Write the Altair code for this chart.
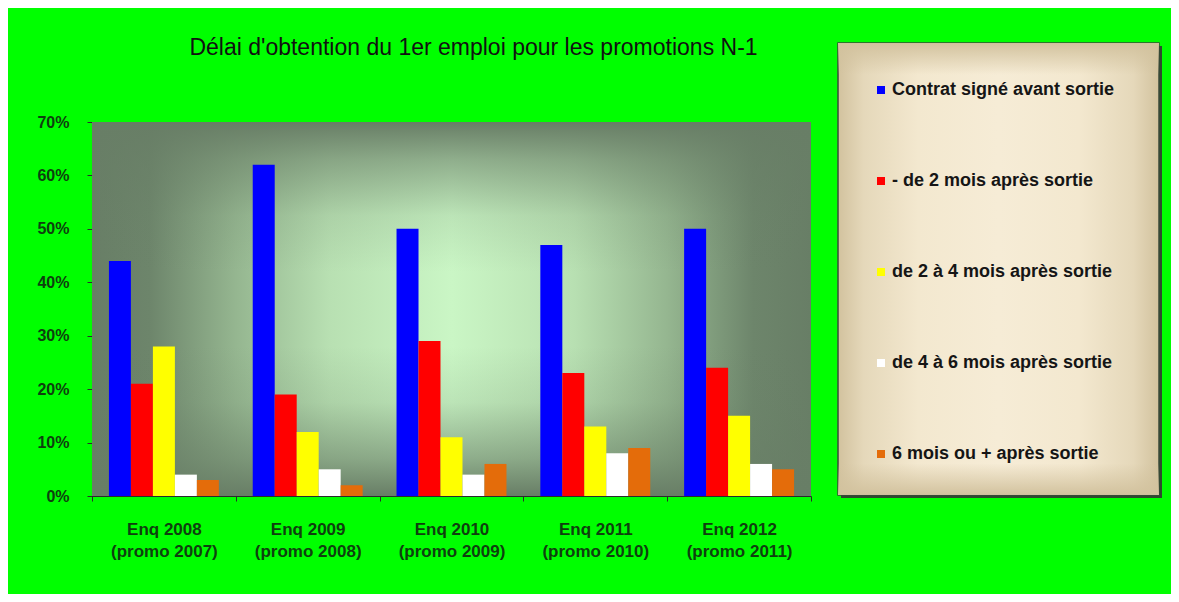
import altair as alt
import pandas as pd

# ---------------- data ----------------
categories = ["Enq 2008|(promo 2007)", "Enq 2009|(promo 2008)", "Enq 2010|(promo 2009)",
              "Enq 2011|(promo 2010)", "Enq 2012|(promo 2011)"]
series = ["Contrat signé avant sortie", "- de 2 mois après sortie", "de 2 à 4 mois après sortie",
          "de 4 à 6 mois après sortie", "6 mois ou + après sortie"]
contrat = [44, 62, 50, 47, 50]
moins_2 = [21, 19, 29, 23, 24]
de_2_a_4 = [28, 12, 11, 13, 15]
de_4_a_6 = [4, 5, 4, 8, 6]
plus_6 = [3, 2, 6, 9, 5]
colors = ["#0000FF", "#FF0000", "#FFFF00", "#FFFFFF", "#E46C0A"]
title_text = "Délai d'obtention du 1er emploi pour les promotions N-1"

values_by_series = [contrat, moins_2, de_2_a_4, de_4_a_6, plus_6]
rows = []
for s, vals in zip(series, values_by_series):
    for c, v in zip(categories, vals):
        rows.append({"cat": c, "serie": s, "val": v / 100})
df = pd.DataFrame(rows)

W, H = 719, 374
FONT = "Liberation Sans"
LABEL_GREEN = "#0f3f0f"

one = alt.Data(values=[{"k": 1}])

# plot-area background: horizontal + vertical gradients
plot_bg = alt.Chart(one).mark_rect(
    fill=alt.LinearGradient(
        gradient="linear", x1=0, y1=0, x2=1, y2=0,
        stops=[alt.GradientStop(color="#687e66", offset=0),
               alt.GradientStop(color="#6d856b", offset=0.08),
               alt.GradientStop(color="#95b690", offset=0.2),
               alt.GradientStop(color="#b8e0b2", offset=0.33),
               alt.GradientStop(color="#caf6c5", offset=0.5),
               alt.GradientStop(color="#b8e0b2", offset=0.67),
               alt.GradientStop(color="#95b690", offset=0.8),
               alt.GradientStop(color="#6d856b", offset=0.92),
               alt.GradientStop(color="#687e66", offset=1)]),
).encode(x=alt.value(0), x2=alt.value(W), y=alt.value(0), y2=alt.value(H))

plot_overlay = alt.Chart(one).mark_rect(
    fill=alt.LinearGradient(
        gradient="linear", x1=0, y1=0, x2=0, y2=1,
        stops=[alt.GradientStop(color="rgba(104,126,102,1)", offset=0),
               alt.GradientStop(color="rgba(104,126,102,0.6)", offset=0.1),
               alt.GradientStop(color="rgba(104,126,102,0.15)", offset=0.25),
               alt.GradientStop(color="rgba(104,126,102,0)", offset=0.4),
               alt.GradientStop(color="rgba(104,126,102,0)", offset=0.6),
               alt.GradientStop(color="rgba(104,126,102,0.15)", offset=0.75),
               alt.GradientStop(color="rgba(104,126,102,0.6)", offset=0.9),
               alt.GradientStop(color="rgba(104,126,102,1)", offset=1)]),
).encode(x=alt.value(0), x2=alt.value(W), y=alt.value(0), y2=alt.value(H))

# legend box background
LX, LY, LW, LH = 746, -79, 321, 452
legend_shadow = alt.Chart(one).mark_rect(fill="#2e4a2e").encode(
    x=alt.value(LX + 3), x2=alt.value(LX + LW + 3), y=alt.value(LY + 3), y2=alt.value(LY + LH + 3))
legend_bg = alt.Chart(one).mark_rect(
    fill=alt.LinearGradient(
        gradient="linear", x1=0, y1=0, x2=1, y2=0,
        stops=[alt.GradientStop(color="#d2c29e", offset=0),
               alt.GradientStop(color="#e5d8ba", offset=0.08),
               alt.GradientStop(color="#f3e8cf", offset=0.25),
               alt.GradientStop(color="#f6ecd6", offset=0.5),
               alt.GradientStop(color="#f3e8cf", offset=0.75),
               alt.GradientStop(color="#e5d8ba", offset=0.92),
               alt.GradientStop(color="#d2c29e", offset=1)]),
    stroke="#3a4a3a", strokeWidth=1.5,
).encode(x=alt.value(LX), x2=alt.value(LX + LW), y=alt.value(LY), y2=alt.value(LY + LH))
legend_overlay = alt.Chart(one).mark_rect(
    fill=alt.LinearGradient(
        gradient="linear", x1=0, y1=0, x2=0, y2=1,
        stops=[alt.GradientStop(color="rgba(210,194,158,1)", offset=0),
               alt.GradientStop(color="rgba(210,194,158,0)", offset=0.07),
               alt.GradientStop(color="rgba(210,194,158,0)", offset=0.93),
               alt.GradientStop(color="rgba(210,194,158,1)", offset=1)]),
).encode(x=alt.value(LX), x2=alt.value(LX + LW), y=alt.value(LY), y2=alt.value(LY + LH))

bars = alt.Chart(df).mark_bar().encode(
    x=alt.X("cat:N", sort=categories, title=None,
            scale=alt.Scale(paddingInner=0, paddingOuter=0),
            axis=alt.Axis(labelExpr="split(datum.label, '|')", labelAngle=0,
                          labelFont=FONT, labelFontSize=17, labelFontWeight="bold",
                          labelColor=LABEL_GREEN, labelLineHeight=22, labelPadding=20,
                          labelLimit=400, tickBand="extent", tickSize=5,
                          tickColor="#2b2b2b", domainColor="#2b2b2b", grid=False)),
    xOffset=alt.XOffset("serie:N", sort=series,
                        scale=alt.Scale(paddingInner=0, paddingOuter=0.77)),
    y=alt.Y("val:Q", title=None,
            scale=alt.Scale(domain=[0, 0.7], nice=False),
            axis=alt.Axis(format=".0%", values=[0, 0.1, 0.2, 0.3, 0.4, 0.5, 0.6, 0.7],
                          labelFont=FONT, labelFontSize=16, labelFontWeight="bold",
                          labelColor=LABEL_GREEN, labelPadding=18, tickSize=5,
                          tickColor="#2b2b2b", domainColor="#2b2b2b", grid=False)),
    color=alt.Color("serie:N", sort=series,
                    scale=alt.Scale(domain=series, range=colors),
                    legend=alt.Legend(orient="none", legendX=LX - 4, legendY=LY, title=None,
                                      symbolType="square", symbolSize=64,
                                      symbolStrokeWidth=0, padding=38, rowPadding=73,
                                      labelFont=FONT, labelFontSize=18, labelFontWeight="bold",
                                      labelColor="#151515", labelOffset=2, labelLimit=400)),
)

chart = alt.layer(plot_bg, plot_overlay, legend_shadow, legend_bg, legend_overlay, bars).properties(
    width=W, height=H,
    title=alt.TitleParams(text=title_text, anchor="middle", frame="group", dx=22, offset=-18,
                          font=FONT, fontSize=23, fontWeight="normal", color="#111111"),
    autosize=alt.AutoSizeParams(type="none"),
    padding={"left": 84, "top": 114, "right": 360, "bottom": 98},
).configure(background="#00FF00").configure_view(strokeWidth=0)

chart.save("out.html", embed_options={"renderer": "svg", "actions": False})
